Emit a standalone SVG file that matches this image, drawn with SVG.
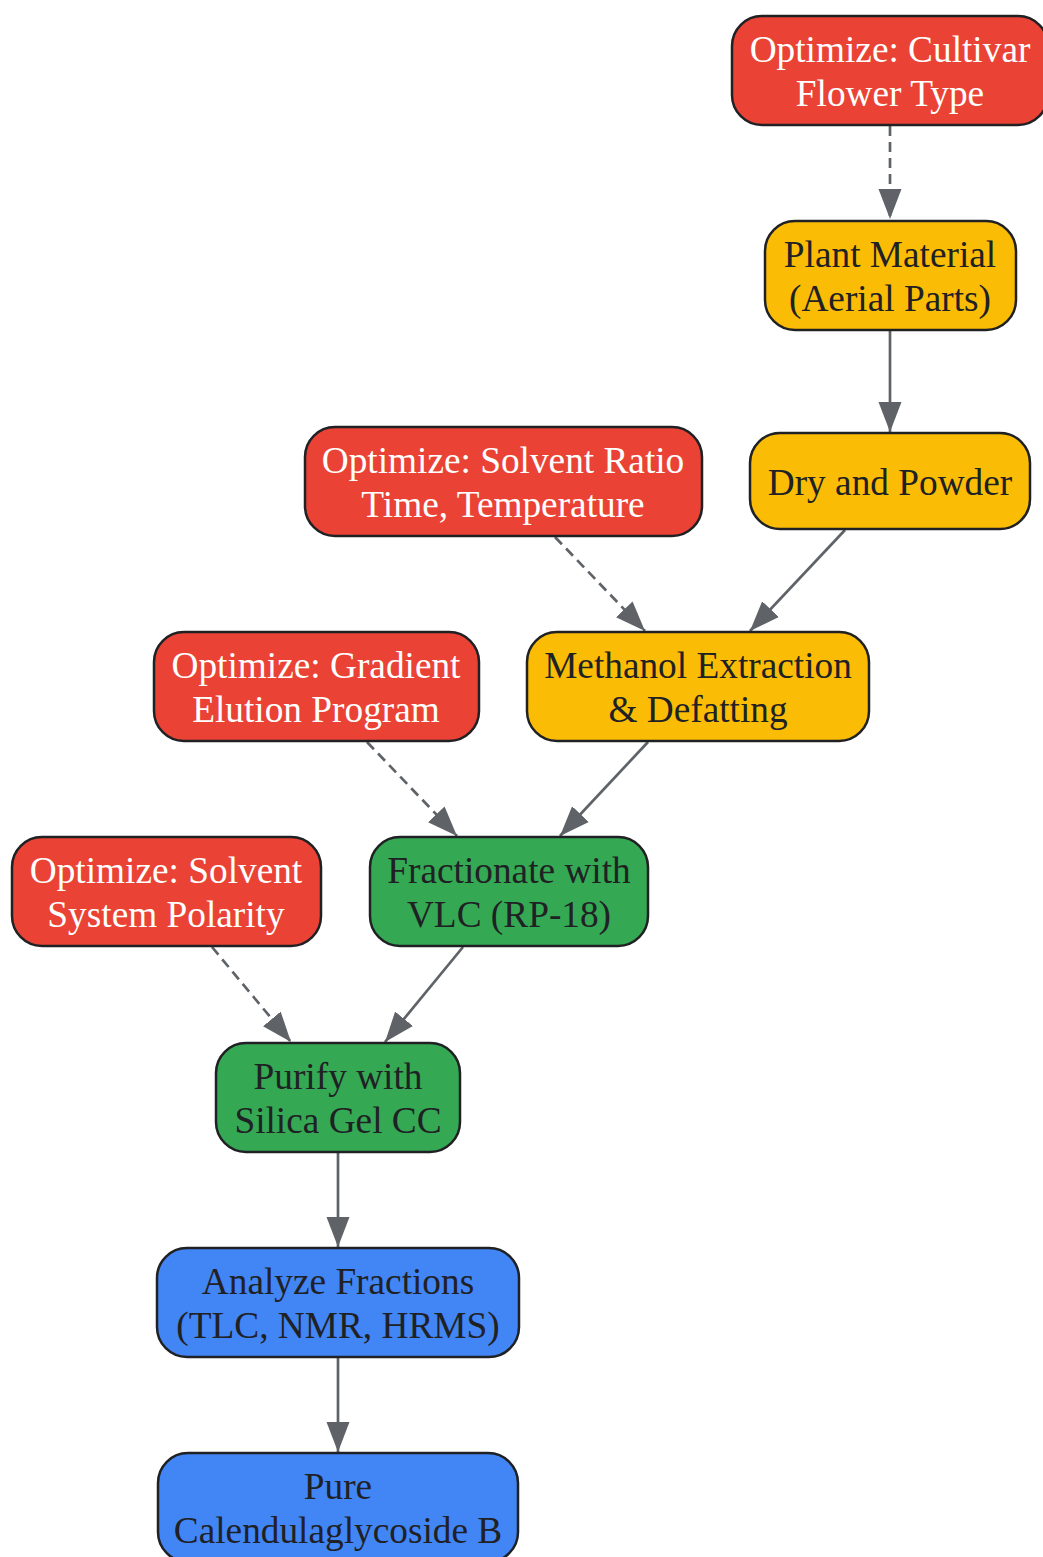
<svg xmlns="http://www.w3.org/2000/svg" width="1043" height="1557" viewBox="0 0 1043 1557">
<defs>
<marker id="ah" markerWidth="30" markerHeight="24" refX="30" refY="12" orient="auto" markerUnits="userSpaceOnUse">
<path d="M0,0.5 L30,12 L0,23.5 Z" fill="#5f6368"/>
</marker>
<style>
.n rect{stroke:#202124;stroke-width:2.5}
.r rect{fill:#ea4335}
.y rect{fill:#fbbc05}
.g rect{fill:#34a853}
.b rect{fill:#4285f4}
text{font-family:"Liberation Serif","Times New Roman",serif;font-size:37.3px;text-anchor:middle;fill:#202124}
.r text{fill:#ffffff}
.e path{fill:none;stroke:#5f6368;stroke-width:2.7;marker-end:url(#ah)}
.e .d{stroke-dasharray:10,6}
</style>
</defs>
<rect width="1043" height="1557" fill="#ffffff"/>
<g class="e">
<path class="d" d="M890,126 L890,219"/>
<path d="M890,331 L890,432"/>
<path class="d" d="M555,537 L645,631"/>
<path d="M845,530 L750,631"/>
<path class="d" d="M367,742 L457,836"/>
<path d="M648,742 L560,836"/>
<path class="d" d="M212,947 L291,1042"/>
<path d="M463,947 L385,1042"/>
<path d="M338,1153 L338,1247"/>
<path d="M338,1358 L338,1452"/>
</g>
<g id="cultivar" class="n r"><rect x="732" y="16" width="316" height="109" rx="30"/><text x="890" y="62">Optimize: Cultivar</text><text x="890" y="106">Flower Type</text></g>
<g id="plant" class="n y"><rect x="765" y="221" width="251" height="109" rx="30"/><text x="890" y="267">Plant Material</text><text x="890" y="311">(Aerial Parts)</text></g>
<g id="dry" class="n y"><rect x="750" y="433" width="280" height="96" rx="30"/><text x="890" y="495">Dry and Powder</text></g>
<g id="solvratio" class="n r"><rect x="305" y="427" width="397" height="109" rx="30"/><text x="503" y="473">Optimize: Solvent Ratio</text><text x="503" y="517">Time, Temperature</text></g>
<g id="methanol" class="n y"><rect x="527" y="632" width="342" height="109" rx="30"/><text x="698" y="678">Methanol Extraction</text><text x="698" y="722">&amp; Defatting</text></g>
<g id="gradient" class="n r"><rect x="154" y="632" width="325" height="109" rx="30"/><text x="316" y="678">Optimize: Gradient</text><text x="316" y="722">Elution Program</text></g>
<g id="vlc" class="n g"><rect x="370" y="837" width="278" height="109" rx="30"/><text x="509" y="883">Fractionate with</text><text x="509" y="927">VLC (RP-18)</text></g>
<g id="polarity" class="n r"><rect x="12" y="837" width="309" height="109" rx="30"/><text x="166" y="883">Optimize: Solvent</text><text x="166" y="927">System Polarity</text></g>
<g id="silica" class="n g"><rect x="216" y="1043" width="244" height="109" rx="30"/><text x="338" y="1089">Purify with</text><text x="338" y="1133">Silica Gel CC</text></g>
<g id="analyze" class="n b"><rect x="157" y="1248" width="362" height="109" rx="30"/><text x="338" y="1294">Analyze Fractions</text><text x="338" y="1338">(TLC, NMR, HRMS)</text></g>
<g id="pure" class="n b"><rect x="158" y="1453" width="360" height="109" rx="30"/><text x="338" y="1499">Pure</text><text x="338" y="1543">Calendulaglycoside B</text></g>
</svg>
